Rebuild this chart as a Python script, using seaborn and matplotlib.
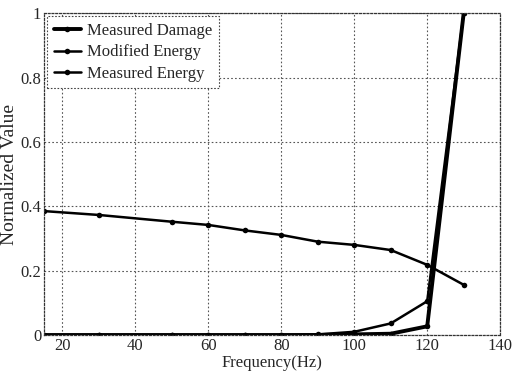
import matplotlib
matplotlib.use("Agg")
import matplotlib.pyplot as plt
import seaborn as sns
import pandas as pd

freq = [15, 30, 50, 60, 70, 80, 90, 100, 110, 120, 130]
measured_damage = [0.0, 0.0, 0.0, 0.0, 0.0, 0.0, 0.0, 0.002, 0.004, 0.027, 1.0]
modified_energy = [0.0, 0.0, 0.0, 0.0, 0.0, 0.0, 0.002, 0.01, 0.036, 0.105, 1.0]
measured_energy = [0.385, 0.373, 0.352, 0.342, 0.325, 0.311, 0.29, 0.28, 0.264, 0.218, 0.156]

series_names = ["Measured Damage", "Modified Energy", "Measured Energy"]
series_values = [measured_damage, modified_energy, measured_energy]
x_ticks = [20, 40, 60, 80, 100, 120, 140]
y_ticks = [0, 0.2, 0.4, 0.6, 0.8, 1.0]
y_tick_labels = ["0", "0.2", "0.4", "0.6", "0.8", "1"]

sns.set_style("white")
plt.rcParams["font.family"] = ["Liberation Serif", "DejaVu Serif"]
plt.rcParams["font.size"] = 11

df = pd.concat(
    [pd.DataFrame({"Frequency": freq, "Value": v, "Series": n})
     for n, v in zip(series_names, series_values)],
    ignore_index=True,
)

fig = plt.figure(figsize=(5.13, 3.76), dpi=100)
ax = fig.add_axes([0.086, 0.109, 0.889, 0.856])

widths = {"Measured Damage": 2.8, "Modified Energy": 1.8, "Measured Energy": 1.8}
for name in series_names:
    sns.lineplot(
        data=df[df["Series"] == name], x="Frequency", y="Value",
        ax=ax, color="black", linewidth=widths[name], marker="o",
        markersize=4, markeredgewidth=0, label=name,
    )

ax.set_xlim(15, 140)
ax.set_ylim(0, 1)
ax.set_xticks(x_ticks)
ax.set_yticks(y_ticks)
ax.set_yticklabels(y_tick_labels)
ax.tick_params(axis="both", length=0, pad=2, labelsize=12)
ax.set_xlabel("Frequency(Hz)", fontsize=12, labelpad=1)
ax.set_ylabel("Normalized Value", fontsize=14, labelpad=2)

ax.grid(True, color="#555555", linestyle=(0, (1.5, 2)), linewidth=0.8)
for sp in ax.spines.values():
    sp.set_linestyle((0, (1.5, 1.5)))
    sp.set_color("#333333")
    sp.set_linewidth(0.9)

leg = ax.legend(loc="upper left", fontsize=12, frameon=True, fancybox=False,
                borderaxespad=0.2, handlelength=1.6, labelspacing=0.32,
                borderpad=0.4, handletextpad=0.4)
frame = leg.get_frame()
frame.set_edgecolor("#444444")
frame.set_linestyle((0, (1.5, 1.5)))
frame.set_linewidth(0.8)
frame.set_alpha(1)

fig.savefig("out.png", dpi=100)
